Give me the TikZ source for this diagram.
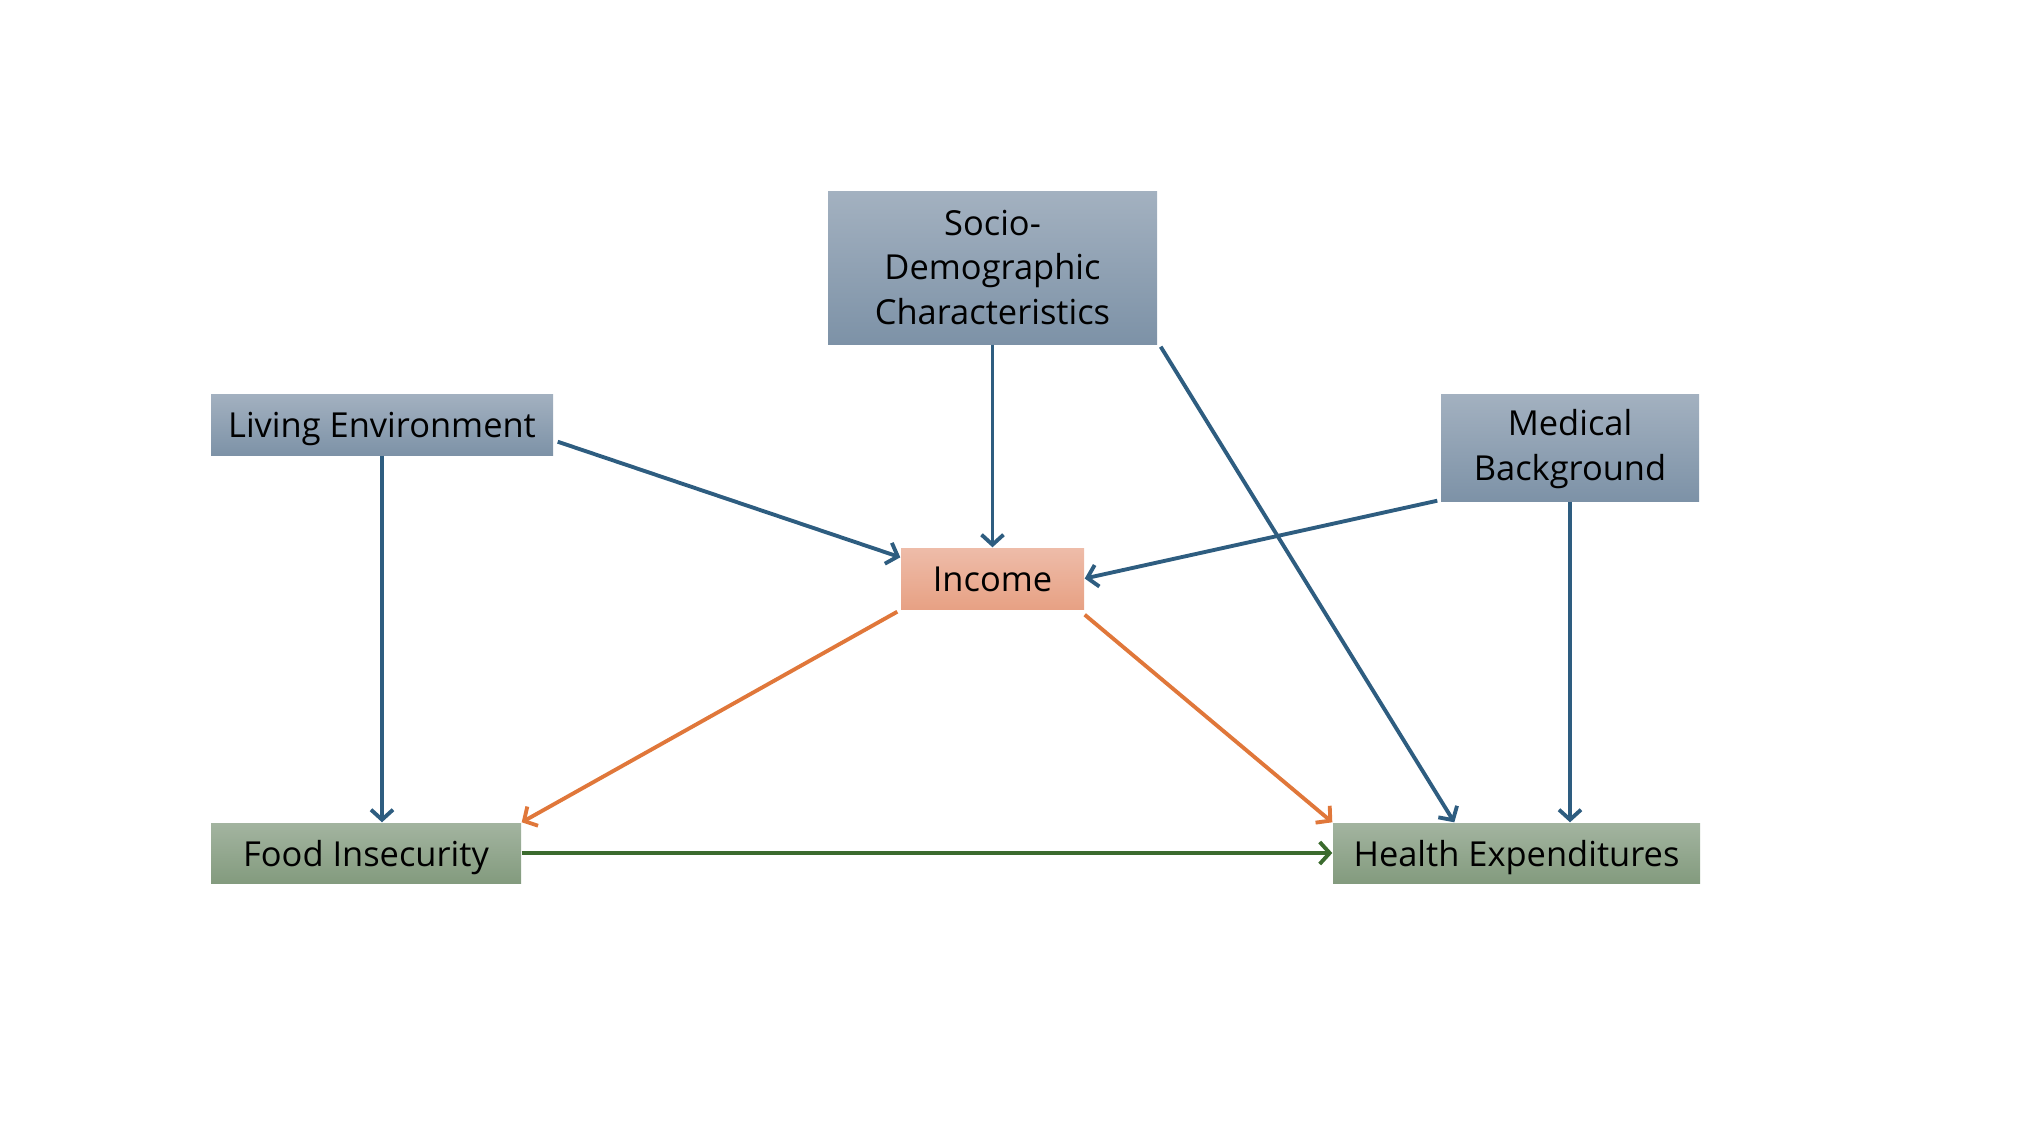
\documentclass[tikz,border=0pt]{standalone}
\usepackage{fontspec}
\setmainfont{Open Sans}
\usetikzlibrary{arrows.meta}
\definecolor{bluebox1}{HTML}{A3B1C0}
\definecolor{bluebox2}{HTML}{7D92A7}
\definecolor{incbox1}{HTML}{EEBCA9}
\definecolor{incbox2}{HTML}{E7A184}
\definecolor{grnbox1}{HTML}{A3B4A0}
\definecolor{grnbox2}{HTML}{839B7E}
\definecolor{blueline}{HTML}{2E5D80}
\definecolor{orangeline}{HTML}{E0773A}
\definecolor{greenline}{HTML}{3B6B2E}
\tikzset{
  box/.style={rectangle, inner sep=0pt, align=center, font=\fontsize{9.8}{12.6}\selectfont},
  oneline/.style={text height=9.4pt, text depth=2pt},
  bluebox/.style={box, top color=bluebox1, bottom color=bluebox2},
  incbox/.style={box, top color=incbox1, bottom color=incbox2},
  grnbox/.style={box, top color=grnbox1, bottom color=grnbox2},
  conn/.style={line width=1.1pt, -{Straight Barb[length=1mm,width=2.2mm]}},
  blueconn/.style={conn, draw=blueline},
  orangeconn/.style={conn, draw=orangeline},
  greenconn/.style={conn, draw=greenline}
}
\begin{document}
\begin{tikzpicture}[x=0.1mm, y=-0.1mm]
\useasboundingbox (0,0) rectangle (2024,1136);
\node[bluebox, text height=34pt, text depth=1.84pt, minimum width=32.9mm, minimum height=15.3mm] (socio) at (992.5,267.5) {Socio-\\Demographic\\Characteristics};
\node[bluebox, oneline, minimum width=34.2mm, minimum height=6.1mm] (living) at (382,424.5) {Living Environment};
\node[bluebox, text height=20.5pt, text depth=2pt, minimum width=25.8mm, minimum height=10.7mm] (medical) at (1570,447.5) {Medical\\Background};
\node[incbox, oneline, minimum width=18.3mm, minimum height=6.1mm] (income) at (992.5,578.5) {Income};
\node[grnbox, oneline, minimum width=31mm, minimum height=6mm] (food) at (366,853) {Food Insecurity};
\node[grnbox, oneline, minimum width=36.7mm, minimum height=6mm] (health) at (1516.5,853) {Health Expenditures};

\draw[blueconn] (socio.south) -- (income.north);
\draw[blueconn] ([xshift=0.4mm,yshift=1.4mm]living.south east) -- ([yshift=-1mm]income.north west);
\draw[blueconn] ([xshift=-0.3mm,yshift=0.1mm]medical.south west) -- (income.east);
\draw[blueconn] ([xshift=0.3mm,yshift=-0.2mm]socio.south east) -- ([xshift=12.2mm]health.north west);
\draw[blueconn] (living.south) -- (living.south |- food.north);
\draw[blueconn] (medical.south) -- (medical.south |- health.north);
\draw[orangeconn] ([xshift=-0.3mm,yshift=-0.2mm]income.south west) -- (food.north east);
\draw[orangeconn] ([yshift=-0.5mm]income.south east) -- (health.north west);
\draw[greenconn] (food.east) -- (health.west);
\end{tikzpicture}
\end{document}
